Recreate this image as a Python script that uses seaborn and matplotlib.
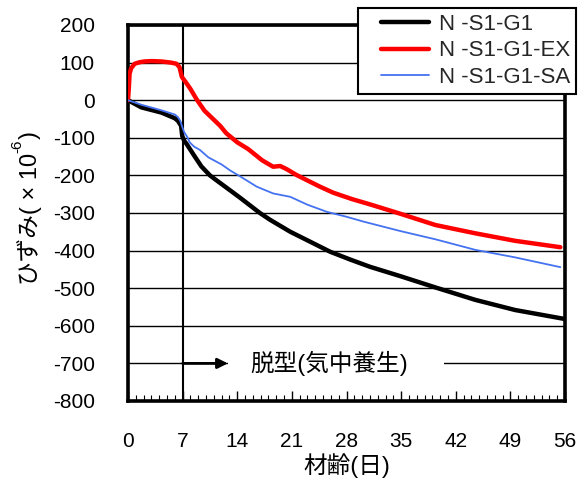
import matplotlib
matplotlib.use("Agg")
import matplotlib.pyplot as plt
import seaborn as sns
import pandas as pd
from matplotlib.ticker import MultipleLocator
from matplotlib.patches import Rectangle
from matplotlib.legend_handler import HandlerLine2D

sns.set_theme(style="white")
FONTS = ['Liberation Sans', 'Noto Sans CJK JP', 'DejaVu Sans']
plt.rcParams['font.family'] = FONTS

# ---- data (age in days, strain x10^-6) ----
series_names = ["N -S1-G1", "N -S1-G1-EX", "N -S1-G1-SA"]

days_g1 = [0, 1.7, 4.3, 6.0, 6.4, 6.8, 6.95, 7.2, 7.5, 8.5, 9.4, 10.5, 11.4, 13.1, 14.4,
           16.9, 18.2, 20.8, 23.5, 25.9, 28.5, 31.0, 34.9, 39.4, 44.5, 49.6, 56.0]
strain_g1 = [0, -19, -33, -48, -55, -68, -95, -108, -116, -148, -176, -200, -214, -240, -260,
             -300, -318, -350, -378, -403, -424, -443, -468, -498, -531, -558, -582]

days_ex = [0, 0.1, 0.2, 0.4, 0.85, 1.5, 2.1, 3.0, 4.3, 5.5, 6.2, 6.6, 6.9, 7.5, 8.0, 8.8,
           9.8, 11.8, 12.6, 14.0, 15.4, 17.2, 18.6, 19.5, 20.3, 21.6, 24.6, 26.3, 28.7,
           31.0, 34.9, 39.4, 44.5, 49.6, 55.4]
strain_ex = [0, 30, 70, 85, 97, 101, 103, 104, 103, 100, 97, 88, 62, 45, 30, 2,
             -28, -68, -88, -112, -130, -160, -177, -175, -183, -199, -230, -246, -263,
             -277, -302, -332, -354, -374, -391]

days_sa = [0, 1.7, 4.3, 6.0, 6.4, 6.7, 6.9, 7.2, 7.6, 7.9, 8.5, 9.2, 10.3, 12.0, 13.1, 14.4,
           16.5, 18.6, 20.8, 23.0, 25.5, 28.0, 30.2, 34.9, 39.4, 44.5, 49.6, 55.4]
strain_sa = [0, -12, -27, -38, -45, -55, -68, -85, -98, -112, -124, -132, -152, -171, -187, -203,
             -230, -248, -257, -278, -297, -310, -323, -348, -370, -398, -418, -444]

x_ticks = [0, 7, 14, 21, 28, 35, 42, 49, 56]
y_ticks = [200, 100, 0, -100, -200, -300, -400, -500, -600, -700, -800]
demold_day = 7
note_level = -700
note_text = "脱型(気中養生)"
x_label = "材齢(日)"
y_label_parts = ["ひずみ( × 10", "-6", ")"]

colors = ["#000000", "#ff0000", "#4472f0"]
widths = [3.2, 3.2, 1.3]

W, H = 585, 483
fig = plt.figure(figsize=(W / 100, H / 100), dpi=100)
ax = fig.add_axes([128 / W, 1 - 401 / H, (565 - 128) / W, (401 - 25) / H])

frames = [
    pd.DataFrame({"day": days_g1, "strain": strain_g1}),
    pd.DataFrame({"day": days_ex, "strain": strain_ex}),
    pd.DataFrame({"day": days_sa, "strain": strain_sa}),
]
for df, name, c, lw in zip(frames, series_names, colors, widths):
    sns.lineplot(data=df, x="day", y="strain", ax=ax, color=c, linewidth=lw,
                 sort=False, label=name, zorder=4)

ax.set_xlim(0, 56)
ax.set_ylim(-800, 200)
ax.set_xticks(x_ticks)
ax.set_yticks(y_ticks)
ax.xaxis.set_minor_locator(MultipleLocator(1))
ax.set_xticklabels([str(t) for t in x_ticks])
ax.set_yticklabels([str(t) for t in y_ticks])

ax.grid(False)
for t in y_ticks:
    ax.axhline(t, color="black", linewidth=1.0, zorder=1)
ax.axvline(demold_day, color="black", linewidth=1.5, zorder=3)

for s in ax.spines.values():
    s.set_visible(True)
    s.set_color("black")
    s.set_linewidth(2.6)

ax.tick_params(axis="x", which="major", direction="in", length=7, width=1.0,
               labelsize=15, pad=22, colors="black")
ax.tick_params(axis="x", which="minor", direction="in", length=4, width=0.8, colors="black")
ax.tick_params(axis="y", which="major", direction="in", length=0, labelsize=15, pad=24,
               colors="black")
ax.tick_params(axis="x", which="both", bottom=True, top=False)
for lab in ax.get_xticklabels() + ax.get_yticklabels():
    lab.set_family(FONTS)

ax.set_xlabel(x_label, fontsize=17, family=FONTS, labelpad=2, color="black")
ax.set_ylabel("")

# annotation: demolding
ax.add_patch(Rectangle((12.8, note_level - 40), 27.7, 80, facecolor="white",
                       edgecolor="none", zorder=2))
ax.annotate("", xy=(12.8, note_level), xytext=(demold_day, note_level),
            arrowprops=dict(arrowstyle="-|>", color="black", lw=2, mutation_scale=15,
                            shrinkA=0, shrinkB=0), zorder=5)
ax.text(25.8, note_level, note_text, fontsize=17, family=FONTS, ha="center",
        va="center", color="black", zorder=5)

leg = ax.legend(loc="upper right", bbox_to_anchor=(576 / W, 1 - 8 / H),
                bbox_transform=fig.transFigure, frameon=True, fancybox=False,
                edgecolor="black", facecolor="white", framealpha=1,
                handlelength=2.95, handletextpad=0.45, borderpad=0.25, labelspacing=0.26,
                borderaxespad=0, prop={"family": FONTS, "size": 16},
                handler_map={plt.Line2D: HandlerLine2D(xpad=0.78)})
leg.get_frame().set_linewidth(1.5)
leg.set_zorder(10)

# y label assembled from pieces (superscript exponent)
fig.canvas.draw()
renderer = fig.canvas.get_renderer()
specs = [(y_label_parts[0], 17, 0), (y_label_parts[1], 11, -13), (y_label_parts[2], 17, 0)]
xc = 30
pieces = []
ypos = 0.0
for s, fs, dx in specs:
    t = fig.text((xc + dx) / W, ypos / H, s, rotation=90, ha="center", va="bottom",
                 fontsize=fs, family=FONTS, color="black")
    bb = t.get_window_extent(renderer)
    pieces.append((t, ypos))
    ypos = bb.y1
total = ypos
target_center = H - 208
shift = target_center - total / 2
for t, y0 in pieces:
    x, _ = t.get_position()
    t.set_position((x, (y0 + shift) / H))

fig.savefig("out.png", dpi=100)
